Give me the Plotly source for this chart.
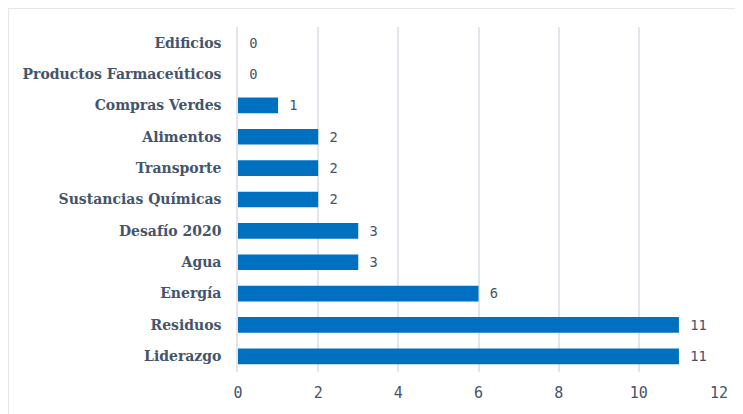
import plotly.graph_objects as go

categories = ["Liderazgo", "Residuos", "Energía", "Agua", "Desafío 2020",
              "Sustancias Químicas", "Transporte", "Alimentos", "Compras Verdes",
              "Productos Farmaceúticos", "Edificios"]
values = [11, 11, 6, 3, 3, 2, 2, 2, 1, 0, 0]
x_ticks = [0, 2, 4, 6, 8, 10, 12]

label_color = "#44546a"
grid_color = "#e3e5ed"

fig = go.Figure(go.Bar(
    x=values, y=categories, orientation="h",
    marker=dict(color="#0070c0", line=dict(width=0)),
    text=[" " + str(v) for v in values], textposition="outside",
    textfont=dict(family="DejaVu Sans Mono", size=14, color=label_color),
    cliponaxis=False, width=0.5,
))

fig.update_layout(
    width=735, height=406,
    margin=dict(l=230, r=24, t=19, b=34),
    paper_bgcolor="white", plot_bgcolor="white",
    showlegend=False,
    xaxis=dict(range=[0, 12], tickvals=x_ticks, showgrid=True, gridcolor=grid_color,
               gridwidth=1.5, zeroline=False, showline=False,
               tickfont=dict(family="DejaVu Sans Mono", size=15, color=label_color),
               ticks="", ticklabelstandoff=10),
    yaxis=dict(categoryorder="array", categoryarray=categories,
               tickfont=dict(family="DejaVu Serif", size=14, color=label_color, weight="bold"),
               showline=True, linecolor=grid_color, linewidth=1.5, ticks="",
               ticklabelstandoff=12, range=[-0.5, 10.5]),
    shapes=[dict(type="rect", xref="paper", yref="paper", x0=-0.4782, x1=1.2,
                 y0=-0.3, y1=1.055, line=dict(color="#e3e6ec", width=2), layer="below")],
)

fig.write_html("out.html")
